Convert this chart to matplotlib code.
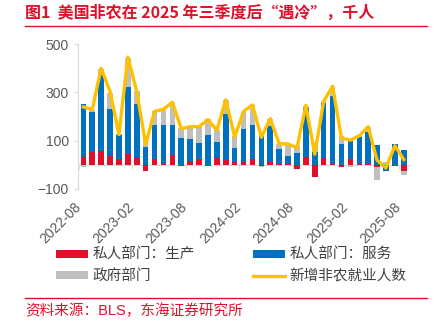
import numpy as np
import pandas as pd
import matplotlib
matplotlib.use('Agg')
import matplotlib.pyplot as plt
from matplotlib.lines import Line2D

plt.rcParams['font.family'] = ['Liberation Sans', 'Noto Sans CJK SC']

# 月份 2022-08 ~ 2025-08
months = [p.strftime('%Y-%m') for p in pd.period_range('2022-08', '2025-08', freq='M')]

# 千人
manufacturing = [34, 52, 56, 38, 25, 45, 27, -24, 25, 3, 41, -3, 15, 25, -4, 27, 22, 10, 11,
                 23, -3, 10, 2, 5, -17, 31, -50, 27, 2, -11, 25, 3, 2, -10, -12, -6, -24]
services = [216, 165, 314, 194, 100, 278, 223, 73, 141, 163, 125, 113, 92, 64, 124, 69, 190, 61, 139,
            143, 125, 150, 64, 33, 50, 204, 54, 229, 284, 88, 74, 111, 135, 81, -12, 88, 63]
government = [-8, 8, 28, 65, 2, 119, 54, 36, 55, 62, 90, 40, 46, 68, 66, 47, 55, 47, 67,
              82, -8, 31, 20, 46, 34, 7, 40, 7, 36, 30, -8, 5, 20, -52, 11, 0, -17]
total = [240, 228, 400, 304, 125, 446, 304, 85, 221, 230, 259, 150, 158, 158, 187, 143, 269, 115, 221,
         248, 114, 191, 88, 86, 70, 246, 44, 263, 325, 111, 102, 120, 158, 19, -13, 79, 22]

red = '#E0102A'
blue = '#0070C0'
gray = '#BFBFBF'
yellow = '#FFC000'
axis_gray = '#D9D9D9'
text_gray = '#595959'

fig = plt.figure(figsize=(4.45, 3.23), dpi=100)
ax = fig.add_axes([78/445, 1-189/323, 332/445, 145/323])

x = np.arange(len(months))
pos_base = np.zeros(len(x))
neg_base = np.zeros(len(x))
handles = []
for vals, color, label in [(manufacturing, red, '私人部门：生产'),
                           (services, blue, '私人部门：服务'),
                           (government, gray, '政府部门')]:
    v = np.array(vals, dtype=float)
    bottom = np.where(v >= 0, pos_base, neg_base)
    b = ax.bar(x, v, 0.62, bottom=bottom, color=color, label=label, zorder=2)
    handles.append(b)
    pos_base += np.clip(v, 0, None)
    neg_base += np.clip(v, None, 0)

line, = ax.plot(x, total, color=yellow, lw=2.4, label='新增非农就业人数', zorder=3,
                solid_joinstyle='round')

ax.set_xlim(-0.6, 36.7)
ax.set_ylim(-100, 500)
ax.set_yticks([-100, 100, 300, 500])

for s in ['top', 'right']:
    ax.spines[s].set_visible(False)
ax.spines['left'].set_color(axis_gray)
ax.spines['bottom'].set_color(axis_gray)
ax.spines['bottom'].set_position(('data', 0))
ax.spines['bottom'].set_zorder(1)

ax.set_xticks(x[::6])
ax.set_xticklabels(months[::6], rotation=45, ha='right')
ax.set_xticks(x[::6] - 0.5, minor=True)
ax.tick_params(axis='x', which='major', length=0, pad=25, labelsize=10, labelcolor=text_gray)
ax.tick_params(axis='x', which='minor', length=3, color=axis_gray)
ax.tick_params(axis='y', length=3, color=axis_gray, labelsize=10, labelcolor=text_gray)

leg = fig.legend([handles[0], handles[2], handles[1], line],
                 ['私人部门：生产', '政府部门', '私人部门：服务', '新增非农就业人数'],
                 ncol=2, loc='upper left', bbox_to_anchor=(56/445, 1-248/323),
                 frameon=False, fontsize=10.5, handlelength=2.2, handleheight=0.45,
                 handletextpad=0.3, columnspacing=4.0, labelspacing=0.5, borderpad=0,
                 borderaxespad=0)
for t in leg.get_texts():
    t.set_color('#404040')

fig.text(25/445, 1-13/323, '图1  美国非农在 2025 年三季度后“遇冷”，千人',
         color=red, fontsize=11.5, fontweight='bold', va='center', ha='left',
         family=['Noto Sans CJK SC', 'DejaVu Sans'])
fig.add_artist(Line2D([25/445, 427/445], [1-26/323, 1-26/323], color=red, lw=1))
fig.add_artist(Line2D([25/445, 427/445], [1-298/323, 1-298/323], color=red, lw=1))
fig.text(25/445, 1-311/323, '资料来源：BLS，东海证券研究所', color=red, fontsize=10.5,
         va='center', ha='left')

fig.savefig('out.png', dpi=100)
